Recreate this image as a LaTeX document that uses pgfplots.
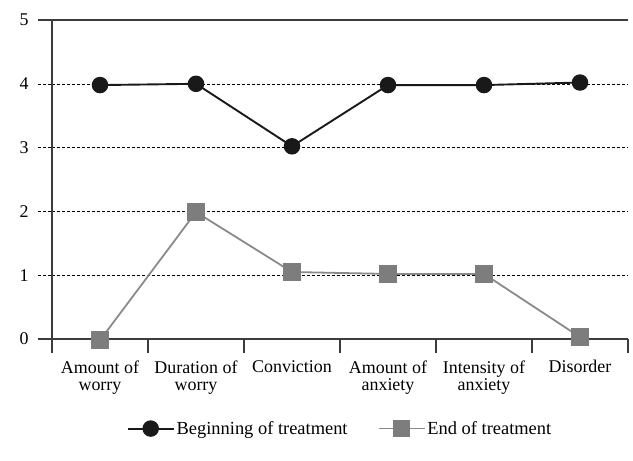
\documentclass[border=0pt]{standalone}
\usepackage{fontspec}
\setmainfont{Liberation Serif}
\usepackage{pgfplots}
\pgfplotsset{compat=1.18}

\definecolor{endgray}{RGB}{125,125,125}
\definecolor{axgray}{RGB}{60,60,60}

\begin{document}
\begin{tikzpicture}
\begin{axis}[
    scale only axis,
    width=576bp, height=319bp,
    xmin=-0.5, xmax=5.5,
    ymin=0, ymax=5,
    clip=false,
    axis lines=left,
    axis line style={-, line width=1.1bp, color=axgray},
    tick align=outside,
    major tick length=14bp,
    xtick={-0.5,0.5,...,5.5},
    x tick label as interval,
    xticklabels={{Amount of\\worry},{Duration of\\worry},Conviction,{Amount of\\anxiety},{Intensity of\\anxiety},Disorder},
    x tick label style={align=center, yshift=-4bp},
    xtick style={solid, line width=1.1bp, color=axgray},
    ytick={1,2,3,4},
    ytick style={dash pattern=on 3bp off 2bp, line width=0.6bp, color=black},
    extra y ticks={0,5},
    extra y tick style={grid=major,
      ytick style={solid, line width=1.1bp, color=axgray},
      major grid style={solid, line width=1.1bp, color=axgray}},
    ymajorgrids,
    major grid style={dash pattern=on 3bp off 2bp, line width=0.6bp, color=black},
    yticklabel style={xshift=-6bp},
    tick label style={font=\fontsize{18}{17}\selectfont},
    /pgf/number format/assume math mode=true,
    legend style={at={(0.5,-0.245)}, anchor=north, draw=none,
      font=\fontsize{18.5}{17}\selectfont, legend columns=2,
      /tikz/every even column/.append style={column sep=28bp}},
    legend image code/.code={
      \draw[mark repeat=2,mark phase=2] plot coordinates {(0bp,0bp) (23bp,0bp) (46bp,0bp)};
    },
]
\addplot[color=black!90, line width=1.9bp, mark=*, mark size=7.3bp,
  mark options={fill=black!90, draw=black!90}] coordinates {
  (0,3.98) (1,4.00) (2,3.02) (3,3.98) (4,3.98) (5,4.02)
};
\addplot[color=endgray!90, line width=1.8bp, mark=square*, mark size=8bp,
  mark options={fill=endgray, draw=endgray}] coordinates {
  (0,-0.02) (1,1.99) (2,1.05) (3,1.02) (4,1.02) (5,0.03)
};
\legend{Beginning of treatment, End of treatment}
\coordinate (sw) at (rel axis cs:0,0);
\end{axis}
\pgfresetboundingbox
\path[use as bounding box] ([shift={(-52bp,-122bp)}]sw) rectangle ([shift={(581bp,339bp)}]sw);
\end{tikzpicture}
\end{document}
